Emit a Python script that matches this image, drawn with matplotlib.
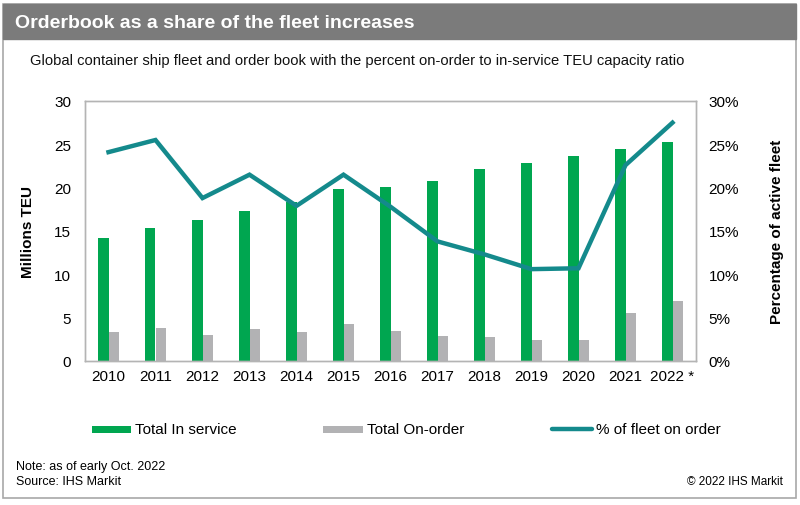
import matplotlib
matplotlib.use("Agg")
import matplotlib.pyplot as plt
from matplotlib.patches import Rectangle
from matplotlib.lines import Line2D
import numpy as np

plt.rcParams['font.family'] = ['Liberation Sans', 'DejaVu Sans']

years = ["2010", "2011", "2012", "2013", "2014", "2015", "2016",
         "2017", "2018", "2019", "2020", "2021", "2022 *"]
in_service = [14.2, 15.4, 16.3, 17.3, 18.4, 19.8, 20.1, 20.8, 22.1, 22.9, 23.6, 24.5, 25.3]
on_order = [3.4, 3.85, 3.0, 3.7, 3.3, 4.3, 3.45, 2.85, 2.75, 2.45, 2.45, 5.5, 6.9]
pct_on_order = [24.1, 25.5, 18.8, 21.5, 17.9, 21.5, 17.8, 13.8, 12.3, 10.6, 10.7, 22.6, 27.5]

left_ticks = [0, 5, 10, 15, 20, 25, 30]
right_ticks = [0, 5, 10, 15, 20, 25, 30]

GREEN = "#00a650"
GRAY = "#b2b2b4"
TEAL = "#148a8c"

W, H = 800, 506
fig = plt.figure(figsize=(W / 100, H / 100), dpi=100)

def fx(px):
    return px / W

def fy(py):
    return 1 - py / H

# outer frame and header
fig.patches.append(Rectangle((fx(3), fy(499)), fx(796) - fx(3), fy(5) - fy(499),
                             transform=fig.transFigure, fill=False,
                             edgecolor="#a8a8a8", lw=1.2, zorder=0))
fig.patches.append(Rectangle((fx(3), fy(40)), fx(796) - fx(3), fy(5) - fy(40),
                             transform=fig.transFigure, facecolor="#7b7b7b",
                             edgecolor="#7b7b7b", lw=1, zorder=1))
fig.text(fx(15), fy(23), "Orderbook as a share of the fleet increases", color="white",
         fontsize=14, fontweight="bold", va="center", ha="left")
fig.text(fx(30), fy(61), "Global container ship fleet and order book with the percent on-order to in-service TEU capacity ratio",
         fontsize=10.6, va="center", ha="left", color="#111111")

ax = fig.add_axes([fx(85), fy(362), fx(696) - fx(85), fy(102) - fy(362)])
x = np.arange(len(years))
bw = 0.215
ax.bar(x - bw / 2, in_service, width=bw, color=GREEN, zorder=2)
ax.bar(x + bw / 2 + 0.005, on_order, width=bw + 0.01, color=GRAY, zorder=2)
ax.set_xlim(-0.5, len(years) - 0.5)
ax.set_ylim(0, 30)
ax.set_yticks(left_ticks)
ax.set_yticklabels([str(t) for t in left_ticks], fontsize=11)
ax.set_xticks(x)
ax.set_xticklabels(years, fontsize=11)
ax.tick_params(length=0, pad=10)
ax.tick_params(axis='x', pad=6)
for s in ax.spines.values():
    s.set_color("#b4b4b4")
    s.set_linewidth(1)
ax.set_ylabel("Millions TEU", fontsize=11, fontweight="bold", labelpad=14)

ax2 = ax.twinx()
ax2.plot(x, pct_on_order, color=TEAL, lw=3.2, solid_joinstyle="miter", zorder=3)
ax2.set_ylim(0, 30)
ax2.set_yticks(right_ticks)
ax2.set_yticklabels([f"{t}%" for t in right_ticks], fontsize=11)
ax2.tick_params(length=0, pad=9)
for s in ax2.spines.values():
    s.set_color("#b4b4b4")
    s.set_linewidth(1)
ax2.set_ylabel("Percentage of active fleet", fontsize=11, fontweight="bold", labelpad=22)

# legend
fig.patches.append(Rectangle((fx(92), fy(434)), fx(39), fy(427) - fy(434),
                             transform=fig.transFigure, facecolor=GREEN, edgecolor="none"))
fig.text(fx(135), fy(430), "Total In service", fontsize=11, va="center", ha="left")
fig.patches.append(Rectangle((fx(323), fy(434)), fx(40), fy(427) - fy(434),
                             transform=fig.transFigure, facecolor=GRAY, edgecolor="none"))
fig.text(fx(367), fy(430), "Total On-order", fontsize=11, va="center", ha="left")
fig.lines.append(Line2D([fx(552), fx(592)], [fy(430), fy(430)], transform=fig.transFigure,
                        color=TEAL, lw=3.2, solid_capstyle="round"))
fig.text(fx(596), fy(430), "% of fleet on order", fontsize=11, va="center", ha="left")

fig.text(fx(16), fy(467), "Note: as of early Oct. 2022", fontsize=9, va="center", ha="left")
fig.text(fx(16), fy(482), "Source: IHS Markit", fontsize=9, va="center", ha="left")
fig.text(fx(783), fy(482), "\u00a9 2022 IHS Markit", fontsize=8.5, va="center", ha="right")

fig.savefig("out.png", dpi=100)
